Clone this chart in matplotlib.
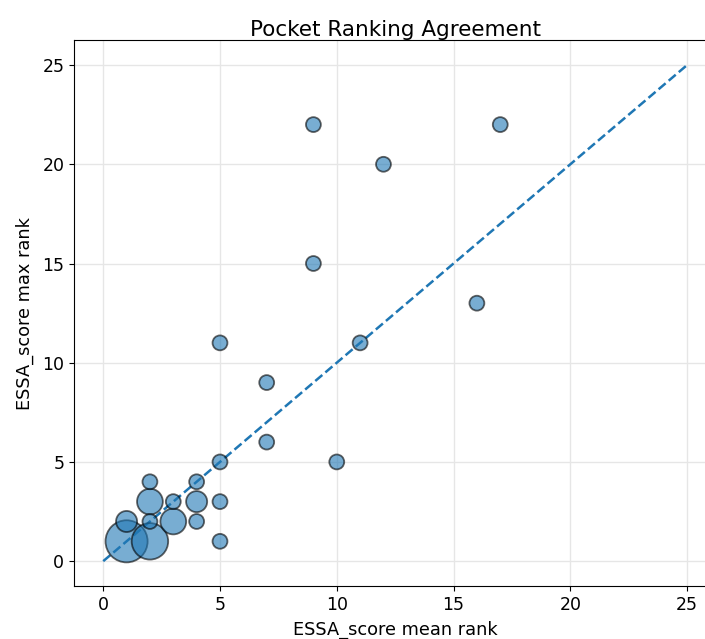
import matplotlib.pyplot as plt

# ranks of each pocket under the two scoring schemes, with how many pockets share the pair
mean_rank = [1, 2, 1, 2, 2, 2, 3, 3, 4, 4, 4, 5, 5, 5, 5, 7, 7, 9, 9, 10, 11, 12, 16, 17]
max_rank = [1, 1, 2, 3, 2, 4, 2, 3, 3, 4, 2, 5, 3, 1, 11, 9, 6, 22, 15, 5, 11, 20, 13, 22]
counts = [8, 6, 2, 3, 1, 1, 3, 1, 2, 1, 1, 1, 1, 1, 1, 1, 1, 1, 1, 1, 1, 1, 1, 1]

fig = plt.figure(figsize=(7.05, 6.39), dpi=100)
ax = fig.add_axes([0.105, 0.083, 0.911, 0.854])

ax.scatter(mean_rank, max_rank, s=[115 * c for c in counts], color="tab:blue",
           alpha=0.6, edgecolor="black", linewidth=1.3, zorder=3)
ax.plot([0, 25], [0, 25], linestyle="--", color="tab:blue", linewidth=1.8, zorder=2)

ax.set_xlim(-1.25, 26.25)
ax.set_ylim(-1.25, 26.25)
ax.set_xticks([0, 5, 10, 15, 20, 25])
ax.set_yticks([0, 5, 10, 15, 20, 25])
ax.tick_params(labelsize=12.5)
ax.grid(True, color="#e6e6e6", linewidth=1, zorder=0)
ax.set_axisbelow(True)

ax.set_xlabel("ESSA_score mean rank", fontsize=12.8, labelpad=5)
ax.set_ylabel("ESSA_score max rank", fontsize=12.8, labelpad=6)
ax.set_title("Pocket Ranking Agreement", fontsize=15.5, pad=3)

fig.savefig("out.png", dpi=100)
plt.close(fig)
